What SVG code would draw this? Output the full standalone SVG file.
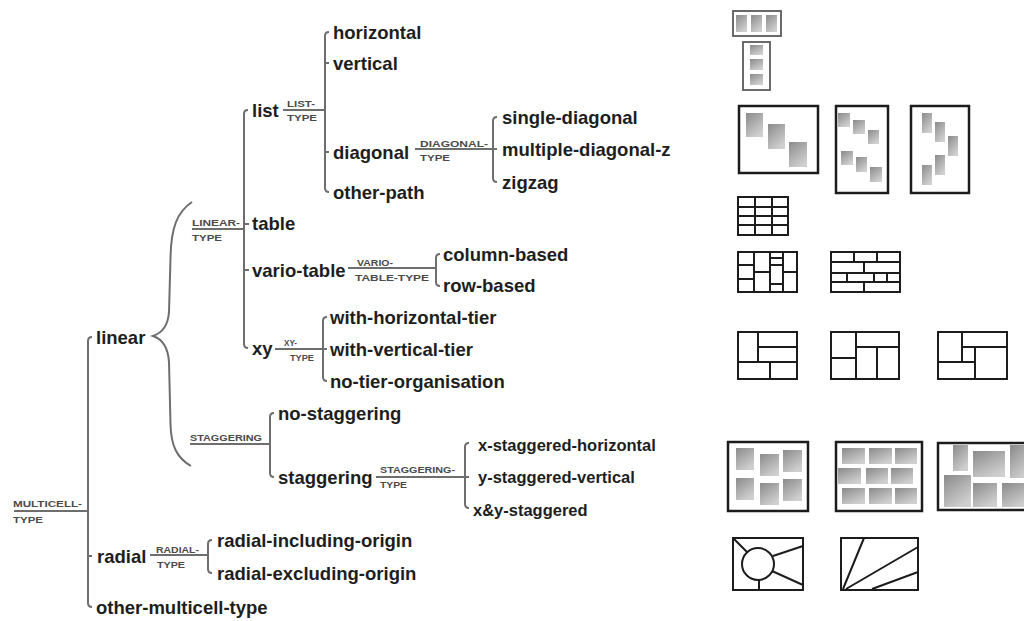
<svg xmlns="http://www.w3.org/2000/svg" width="1024" height="621" viewBox="0 0 1024 621">
<defs>
<linearGradient id="gs" x1="0" y1="0" x2="0.6" y2="1"><stop offset="0" stop-color="#8a8a8a"/><stop offset="1" stop-color="#cfcfcf"/></linearGradient>
</defs>
<style>
.t{font-family:"Liberation Sans",Arial,sans-serif;font-weight:bold;font-size:18.5px;fill:#1e1e1e}
.c{font-size:16.5px}
.s{font-family:"Liberation Sans",Arial,sans-serif;font-weight:bold;font-size:9.5px;fill:#4a4a4a}
.ln{fill:none;stroke:#6e6e6e;stroke-width:2}
.ic{fill:#fff;stroke:#1c1c1c;stroke-width:2}
.il{fill:none;stroke:#1c1c1c;stroke-width:2}
.fr{fill:#fff;stroke:#5a5a5a;stroke-width:1.8}
.fb{fill:#fff;stroke:#1c1c1c;stroke-width:2.5}
.sq{fill:url(#gs)}
</style>
<rect width="1024" height="621" fill="#fff"/>

<g id="connectors">
<g class="ln">
<path d="M14 511 H88 M92 337 Q88 337 88 341 V603 Q88 607 92 607 M88 556 H92"/>
<path d="M192 202 C177 212 171 228 170.5 258 L169 312 C168 326 162 333 153 336 C162 339 168 347 169 362 L170.5 424 C171 446 177 458 191 466"/>
<path d="M192 229 H244 M248 110 Q244 110 244 114 V344 Q244 348 248 348 M244 224 H249 M244 270 H249"/>
<path d="M190 444 H270 M274 413 Q270 413 270 417 V473 Q270 477 274 477"/>
<path d="M283 110 H325 M329 32 Q325 32 325 36 V188 Q325 192 329 192 M325 63 H329 M325 152 H329"/>
<path d="M415 149 H493 M497 117 Q493 117 493 121 V178 Q493 182 497 182 M493 149 H497"/>
<path d="M348 268 H436 M440 254 Q436 254 436 258 V282 Q436 286 440 286"/>
<path d="M275 349 H323 M327 317 Q323 317 323 321 V377 Q323 381 327 381 M323 349 H327"/>
<path d="M376 477 H465 M469 443 Q465 443 465 447 V504 Q465 508 469 508 M465 477 H469"/>
<path d="M150 555 H208 M212 540 Q208 540 208 544 V569 Q208 573 212 573"/>
</g>
<g id="edge-labels">
<text class="s" x="13" y="506.5" textLength="69" lengthAdjust="spacingAndGlyphs">MULTICELL-</text>
<text class="s" x="13" y="522.5" textLength="30" lengthAdjust="spacingAndGlyphs">TYPE</text>
<text class="s" x="192" y="226" textLength="48" lengthAdjust="spacingAndGlyphs">LINEAR-</text>
<text class="s" x="192" y="240.5" textLength="30" lengthAdjust="spacingAndGlyphs">TYPE</text>
<text class="s" x="190" y="440.5" textLength="72" lengthAdjust="spacingAndGlyphs">STAGGERING</text>
<text class="s" x="287" y="106.5" textLength="28" lengthAdjust="spacingAndGlyphs">LIST-</text>
<text class="s" x="287" y="120.5" textLength="30" lengthAdjust="spacingAndGlyphs">TYPE</text>
<text class="s" x="420" y="146.5" textLength="68" lengthAdjust="spacingAndGlyphs">DIAGONAL-</text>
<text class="s" x="420" y="160.5" textLength="30" lengthAdjust="spacingAndGlyphs">TYPE</text>
<text class="s" x="357" y="265.5" textLength="36" lengthAdjust="spacingAndGlyphs">VARIO-</text>
<text class="s" x="355" y="280.5" textLength="74" lengthAdjust="spacingAndGlyphs">TABLE-TYPE</text>
<text class="s" x="284" y="345.5" textLength="13" lengthAdjust="spacingAndGlyphs">XY-</text>
<text class="s" x="290" y="360.5" textLength="24" lengthAdjust="spacingAndGlyphs">TYPE</text>
<text class="s" x="380" y="472.5" textLength="75" lengthAdjust="spacingAndGlyphs">STAGGERING-</text>
<text class="s" x="380" y="487.5" textLength="27" lengthAdjust="spacingAndGlyphs">TYPE</text>
<text class="s" x="156" y="552.5" textLength="43" lengthAdjust="spacingAndGlyphs">RADIAL-</text>
<text class="s" x="157" y="567.5" textLength="28" lengthAdjust="spacingAndGlyphs">TYPE</text>
</g>
</g>

<g id="n-linear"><text class="t" x="96" y="343.5">linear</text></g>
<g id="n-radial"><text class="t" x="97" y="562.5">radial</text></g>
<g id="n-other-multicell-type"><text class="t" x="96" y="614">other-multicell-type</text></g>
<g id="n-list"><text class="t" x="252" y="116.5">list</text></g>
<g id="n-table"><text class="t" x="252" y="229.5">table</text></g>
<g id="n-vario-table"><text class="t" x="252" y="276.5">vario-table</text></g>
<g id="n-xy"><text class="t" x="252" y="354.5">xy</text></g>
<g id="n-no-staggering"><text class="t" x="278" y="419.5">no-staggering</text></g>
<g id="n-staggering"><text class="t" x="278" y="483.5">staggering</text></g>
<g id="n-horizontal"><text class="t" x="333" y="38.5">horizontal</text></g>
<g id="n-vertical"><text class="t" x="333" y="69.5">vertical</text></g>
<g id="n-diagonal"><text class="t" x="333" y="158.5">diagonal</text></g>
<g id="n-other-path"><text class="t" x="333" y="198.5">other-path</text></g>
<g id="n-single-diagonal"><text class="t" x="502" y="123.5">single-diagonal</text></g>
<g id="n-multiple-diagonal-z"><text class="t" x="502" y="155.5">multiple-diagonal-z</text></g>
<g id="n-zigzag"><text class="t" x="502" y="188.5">zigzag</text></g>
<g id="n-column-based"><text class="t" x="443" y="260.5">column-based</text></g>
<g id="n-row-based"><text class="t" x="443" y="291.5">row-based</text></g>
<g id="n-with-horizontal-tier"><text class="t" x="330" y="323.5">with-horizontal-tier</text></g>
<g id="n-with-vertical-tier"><text class="t" x="330" y="355.5">with-vertical-tier</text></g>
<g id="n-no-tier-organisation"><text class="t" x="330" y="387.5">no-tier-organisation</text></g>
<g id="n-x-staggered-horizontal"><text class="t c" x="478" y="451">x-staggered-horizontal</text></g>
<g id="n-y-staggered-vertical"><text class="t c" x="478" y="483">y-staggered-vertical</text></g>
<g id="n-xy-staggered"><text class="t c" x="473" y="516">x&amp;y-staggered</text></g>
<g id="n-radial-including-origin"><text class="t" x="217" y="546.5">radial-including-origin</text></g>
<g id="n-radial-excluding-origin"><text class="t" x="217" y="579.5">radial-excluding-origin</text></g>

<g id="icons">
<g id="i-horizontal">
<rect class="fr" x="733" y="11" width="48" height="25"/>
<rect class="sq" x="736" y="15" width="11" height="17"/><rect class="sq" x="751" y="15" width="11" height="17"/><rect class="sq" x="766" y="15" width="11" height="17"/>
</g>
<g id="i-vertical">
<rect class="fr" x="743" y="42" width="27" height="48"/>
<rect class="sq" x="750" y="45" width="13" height="10"/><rect class="sq" x="750" y="59" width="13" height="11"/><rect class="sq" x="750" y="74" width="13" height="11"/>
</g>
<g id="i-single-diagonal">
<rect class="fb" x="739" y="106" width="79" height="67"/>
<rect class="sq" x="746" y="113" width="17" height="24"/><rect class="sq" x="768" y="124" width="17" height="25"/><rect class="sq" x="789" y="142" width="18" height="25"/>
</g>
<g id="i-multiple-diagonal">
<rect class="fb" x="836" y="106" width="52" height="87"/>
<path class="il" d="M836 106 H888 M836 193 H888" stroke-width="3.5"/>
<rect class="sq" x="838" y="113" width="12" height="14"/><rect class="sq" x="853" y="120" width="12" height="14"/><rect class="sq" x="868" y="130" width="11" height="14"/>
<rect class="sq" x="841" y="151" width="12" height="14"/><rect class="sq" x="856" y="157" width="11" height="15"/><rect class="sq" x="870" y="167" width="12" height="15"/>
</g>
<g id="i-zigzag">
<rect class="fb" x="911" y="106" width="58" height="87"/>
<path class="il" d="M911 106 H969 M911 193 H969" stroke-width="3.5"/>
<rect class="sq" x="922" y="113" width="10" height="20"/><rect class="sq" x="935" y="122" width="10" height="20"/><rect class="sq" x="948" y="136" width="10" height="20"/>
<rect class="sq" x="935" y="155" width="10" height="20"/><rect class="sq" x="922" y="165" width="10" height="20"/>
</g>
<g id="i-table">
<rect class="ic" x="738" y="197" width="50" height="38"/>
<path class="il" d="M738 207 H788 M738 216 H788 M738 225 H788 M755 197 V235 M772 197 V235"/>
</g>
<g id="i-column-based">
<rect class="ic" x="738" y="252" width="59" height="40"/>
<path class="il" d="M754 252 V292 M770 252 V292 M783 252 V292 M738 265 H754 M738 279 H754 M754 272 H770 M770 258 H783 M770 265 H783 M770 284 H783 M783 272 H797"/>
</g>
<g id="i-row-based">
<rect class="ic" x="831" y="252" width="69" height="40"/>
<path class="il" d="M831 262 H900 M831 273 H900 M831 282 H900 M854 252 V262 M877 252 V262 M864 262 V273 M847 273 V282 M874 273 V282 M887 273 V282 M864 282 V292"/>
</g>
<g id="i-xy-horizontal">
<rect class="ic" x="738" y="332" width="59" height="47"/>
<path class="il" d="M758 332 V362 M758 347 H797 M738 362 H797 M770 362 V379"/>
</g>
<g id="i-xy-vertical">
<rect class="ic" x="831" y="332" width="68" height="47"/>
<path class="il" d="M856 332 V379 M831 358 H856 M856 347 H899 M877 347 V379"/>
</g>
<g id="i-xy-none">
<rect class="ic" x="938" y="332" width="69" height="47"/>
<path class="il" d="M962 332 V362 M962 347 H1007 M975 347 V379 M938 362 H975"/>
</g>
<g id="i-x-staggered">
<rect class="fb" x="728" y="442" width="80" height="69"/>
<rect class="sq" x="736" y="448" width="18" height="22"/><rect class="sq" x="736" y="478" width="18" height="22"/>
<rect class="sq" x="760" y="454" width="19" height="22"/><rect class="sq" x="760" y="483" width="19" height="22"/>
<rect class="sq" x="783" y="450" width="19" height="22"/><rect class="sq" x="783" y="479" width="19" height="22"/>
</g>
<g id="i-y-staggered">
<rect class="fb" x="836" y="442" width="86" height="69"/>
<rect class="sq" x="842" y="448" width="23" height="16"/><rect class="sq" x="869" y="448" width="23" height="16"/><rect class="sq" x="895" y="448" width="22" height="16"/>
<rect class="sq" x="838" y="468" width="23" height="16"/><rect class="sq" x="866" y="468" width="22" height="16"/><rect class="sq" x="891" y="468" width="22" height="16"/>
<rect class="sq" x="842" y="488" width="23" height="16"/><rect class="sq" x="869" y="488" width="23" height="16"/><rect class="sq" x="895" y="488" width="22" height="16"/>
</g>
<g id="i-xy-staggered">
<rect class="fb" x="938" y="443" width="95" height="67"/>
<rect class="sq" x="953" y="445" width="15" height="26"/><rect class="sq" x="973" y="451" width="32" height="26"/><rect class="sq" x="1010" y="445" width="20" height="33"/>
<rect class="sq" x="944" y="475" width="27" height="32"/><rect class="sq" x="973" y="483" width="24" height="24"/><rect class="sq" x="1002" y="483" width="28" height="24"/>
</g>
<g id="i-radial-including">
<rect class="ic" x="733" y="538" width="70" height="52"/>
<circle class="il" cx="758" cy="564" r="16"/>
<path class="il" d="M733 538 L747 552 M773 556 L803 546 M772 571 L803 585 M759 580 V590"/>
</g>
<g id="i-radial-excluding">
<rect class="ic" x="841" y="538" width="77" height="52"/>
<path class="il" d="M843 589 L864 538 M846 589 L918 547 M872 589 L918 572"/>
</g>
</g>
</svg>
